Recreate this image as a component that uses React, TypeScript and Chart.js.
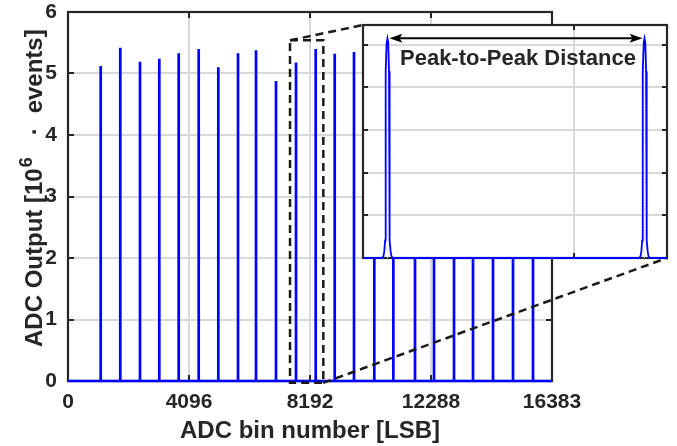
import React, { useEffect, useRef } from 'react';
import { Chart, registerables } from 'chart.js';

Chart.register(...registerables);

// ---------- data ----------
const xTickValues = [0, 4096, 8192, 12288, 16383];
const yTickValues = [0, 1, 2, 3, 4, 5, 6];
const peakBins = [1107, 1770, 2437, 3090, 3747, 4424, 5088, 5755, 6364, 7041, 7718, 8385, 9028, 9681, 10368, 11012, 11746, 12389, 13066, 13709, 14386, 15063, 15740];
const peakCounts = [5.12, 5.42, 5.19, 5.24, 5.33, 5.40, 5.10, 5.33, 5.38, 4.88, 5.18, 5.40, 5.32, 5.35, 5.30, 5.25, 5.36, 5.28, 5.22, 5.34, 5.27, 5.31, 5.20];
const zoomBoxBins = [7515, 8642];
const zoomBoxCounts = [-0.03, 5.54];

const insetRangeBins = [7656, 8427];
const insetRangeCounts = [0, 5.46];
const insetXTickValues = [8192];
const insetYTickValues = [0, 1, 2, 3, 4, 5];
const insetPeakBins = [7718, 8370];
const insetPeakCounts = [5.15, 5.15];
// peak profile: offsets (bins) and relative height
const profileOffsets = [-13, -10, -8, -6, -5, -4, -2, 0, 2, 4, 5, 6, 8, 10, 13];
const profileShape = [0, 0.01, 0.03, 0.08, 0.25, 0.85, 0.98, 1, 0.98, 0.85, 0.25, 0.08, 0.03, 0.01, 0];
const annotationText = 'Peak-to-Peak Distance';
const annotationCount = 4.53;

const xTitle = 'ADC bin number [LSB]';
const yTitleMain = 'ADC Output [10';
const yTitleSup = '6';
const yTitleDot = '\u00b7';
const yTitleTail = 'events]';

// ---------- styles ----------
const W = 677;
const H = 446;
const BLUE = '#0000ff';
const AXIS = '#262626';
const GRID = '#d9d9d9';
const FONT = '"Liberation Sans", Arial, sans-serif';
const INSET = { left: 363, top: 25, right: 667, bottom: 258 };
const PAD = 4;

function drawGrid(chart: any) {
  const { ctx, chartArea: a, scales } = chart;
  ctx.save();
  ctx.strokeStyle = GRID;
  ctx.lineWidth = 2;
  ctx.beginPath();
  scales.x.ticks.forEach((t: any) => {
    const px = Math.round(scales.x.getPixelForValue(t.value));
    ctx.moveTo(px, a.top);
    ctx.lineTo(px, a.bottom);
  });
  scales.y.ticks.forEach((t: any) => {
    const py = Math.round(scales.y.getPixelForValue(t.value));
    ctx.moveTo(a.left, py);
    ctx.lineTo(a.right, py);
  });
  ctx.stroke();
  ctx.restore();
}

function drawBox(chart: any, tickLen: number) {
  const { ctx, chartArea: a, scales } = chart;
  ctx.save();
  ctx.strokeStyle = AXIS;
  ctx.lineWidth = 2.2;
  ctx.strokeRect(a.left, a.top, a.right - a.left, a.bottom - a.top);
  ctx.lineWidth = 2;
  ctx.beginPath();
  scales.x.ticks.forEach((t: any) => {
    const px = Math.round(scales.x.getPixelForValue(t.value));
    ctx.moveTo(px, a.bottom);
    ctx.lineTo(px, a.bottom - tickLen);
    ctx.moveTo(px, a.top);
    ctx.lineTo(px, a.top + tickLen);
  });
  scales.y.ticks.forEach((t: any) => {
    const py = Math.round(scales.y.getPixelForValue(t.value));
    ctx.moveTo(a.left, py);
    ctx.lineTo(a.left + tickLen, py);
    ctx.moveTo(a.right, py);
    ctx.lineTo(a.right - tickLen, py);
  });
  ctx.stroke();
  ctx.restore();
}

const mainPlugin = {
  id: 'mainDecor',
  beforeDatasetsDraw(chart: any) {
    drawGrid(chart);
    drawBox(chart, 6);
  },
  afterDatasetsDraw(chart: any) {
    const { ctx, scales } = chart;
    const x0 = scales.x.getPixelForValue(zoomBoxBins[0]);
    const x1 = scales.x.getPixelForValue(zoomBoxBins[1]);
    const y0 = scales.y.getPixelForValue(zoomBoxCounts[0]);
    const y1 = scales.y.getPixelForValue(zoomBoxCounts[1]);
    ctx.save();
    ctx.strokeStyle = '#1a1a1a';
    ctx.lineWidth = 2.5;
    ctx.setLineDash([8, 5]);
    ctx.strokeRect(x0, y1, x1 - x0, y0 - y1);
    ctx.beginPath();
    ctx.moveTo(x0, y1);
    ctx.lineTo(INSET.left, INSET.top);
    ctx.moveTo(x1, y0);
    ctx.lineTo(INSET.right, INSET.bottom);
    ctx.stroke();
    ctx.restore();
  },
  afterDraw(chart: any) {
    const { ctx, chartArea: a } = chart;
    ctx.save();
    ctx.fillStyle = AXIS;
    // x title
    ctx.font = `bold 24px ${FONT}`;
    ctx.textAlign = 'center';
    ctx.textBaseline = 'alphabetic';
    ctx.fillText(xTitle, (a.left + a.right) / 2, 438);
    // y title (rotated, with superscript)
    ctx.translate(42, 347);
    ctx.rotate(-Math.PI / 2);
    ctx.textAlign = 'left';
    const big = `bold 24px ${FONT}`;
    const small = `bold 18px ${FONT}`;
    let x = 0;
    ctx.font = big;
    ctx.fillText(yTitleMain, x, 0);
    x += ctx.measureText(yTitleMain).width + 1;
    ctx.font = small;
    ctx.fillText(yTitleSup, x, -10);
    x += ctx.measureText(yTitleSup).width + 22;
    ctx.font = big;
    ctx.fillText(yTitleDot, x, 0);
    x += ctx.measureText(yTitleDot).width + 14;
    ctx.fillText(yTitleTail, x, 0);
    ctx.restore();
  },
};

function drawArrowHead(ctx: CanvasRenderingContext2D, tipX: number, y: number, dir: number) {
  const len = 13;
  const half = 4.5;
  const notch = 3;
  ctx.beginPath();
  ctx.moveTo(tipX, y);
  ctx.lineTo(tipX + dir * len, y - half);
  ctx.lineTo(tipX + dir * (len - notch), y);
  ctx.lineTo(tipX + dir * len, y + half);
  ctx.closePath();
  ctx.fill();
}

const insetPlugin = {
  id: 'insetDecor',
  beforeDraw(chart: any) {
    const { ctx, chartArea: a } = chart;
    ctx.save();
    ctx.fillStyle = '#ffffff';
    ctx.fillRect(a.left, a.top, a.right - a.left, a.bottom - a.top);
    ctx.restore();
  },
  beforeDatasetsDraw(chart: any) {
    drawGrid(chart);
    drawBox(chart, 5);
  },
  afterDatasetsDraw(chart: any) {
    const { ctx, scales } = chart;
    const xa = scales.x.getPixelForValue(insetPeakBins[0]);
    const xb = scales.x.getPixelForValue(insetPeakBins[1]);
    const ya = scales.y.getPixelForValue(insetPeakCounts[0]);
    ctx.save();
    ctx.strokeStyle = '#000000';
    ctx.fillStyle = '#000000';
    ctx.lineWidth = 2;
    ctx.beginPath();
    ctx.moveTo(xa + 8, ya);
    ctx.lineTo(xb - 8, ya);
    ctx.stroke();
    drawArrowHead(ctx, xa + 2, ya, 1);
    drawArrowHead(ctx, xb - 2, ya, -1);
    ctx.fillStyle = AXIS;
    ctx.font = `bold 22px ${FONT}`;
    ctx.textAlign = 'center';
    ctx.textBaseline = 'alphabetic';
    const mid = scales.x.getPixelForValue((insetPeakBins[0] + insetPeakBins[1]) / 2);
    ctx.fillText(annotationText, mid + 2, scales.y.getPixelForValue(annotationCount));
    ctx.restore();
  },
};

function fixedTicks(values: number[]) {
  return (scale: any) => {
    scale.ticks = values.map((v) => ({ value: v }));
  };
}

export default function App() {
  const mainRef = useRef<HTMLCanvasElement>(null);
  const insetRef = useRef<HTMLCanvasElement>(null);

  useEffect(() => {
    const mainData: { x: number; y: number }[] = [{ x: xTickValues[0], y: 0 }];
    peakBins.forEach((b, i) => {
      mainData.push({ x: b, y: 0 }, { x: b, y: peakCounts[i] }, { x: b, y: 0 });
    });
    mainData.push({ x: xTickValues[xTickValues.length - 1], y: 0 });

    const tickFont = { family: FONT, size: 21, weight: 'bold' as const };

    const main = new Chart(mainRef.current!, {
      type: 'line',
      data: {
        datasets: [
          {
            data: mainData,
            borderColor: BLUE,
            borderWidth: 2.7,
            pointRadius: 0,
            tension: 0,
            borderJoinStyle: 'bevel',
            clip: false as any,
          },
        ],
      },
      options: {
        animation: false,
        responsive: false,
        devicePixelRatio: 1,
        events: [],
        layout: { padding: { left: 0, top: 12, right: 125, bottom: 0 } },
        plugins: { legend: { display: false }, tooltip: { enabled: false } },
        scales: {
          x: {
            type: 'linear',
            min: xTickValues[0],
            max: xTickValues[xTickValues.length - 1],
            afterBuildTicks: fixedTicks(xTickValues),
            afterFit: (s: any) => {
              s.height = 65;
              s.paddingLeft = 0;
              s.paddingRight = 0;
            },
            grid: { display: false, drawTicks: false },
            border: { display: false },
            ticks: {
              font: tickFont,
              color: AXIS,
              padding: 9,
              maxRotation: 0,
              autoSkip: false,
              callback: (v: any) => String(v),
            },
          },
          y: {
            min: 0,
            max: 6,
            afterBuildTicks: fixedTicks(yTickValues),
            afterFit: (s: any) => {
              s.width = 68;
              s.paddingTop = 0;
              s.paddingBottom = 0;
            },
            grid: { display: false, drawTicks: false },
            border: { display: false },
            ticks: {
              font: tickFont,
              color: AXIS,
              padding: 11,
              autoSkip: false,
              callback: (v: any) => String(v),
            },
          },
        },
      },
      plugins: [mainPlugin],
    });

    const insetData: { x: number; y: number }[] = [{ x: insetRangeBins[0], y: 0 }];
    const centerLines: { x: number; y: number | null }[] = [];
    insetPeakBins.forEach((p, i) => {
      profileOffsets.forEach((o, k) => {
        insetData.push({ x: p + o, y: insetPeakCounts[i] * profileShape[k] });
      });
      centerLines.push({ x: p, y: 0 }, { x: p, y: insetPeakCounts[i] }, { x: p, y: null });
    });
    insetData.push({ x: insetRangeBins[1], y: 0 });

    const inset = new Chart(insetRef.current!, {
      type: 'line',
      data: {
        datasets: [
          {
            data: insetData,
            borderColor: BLUE,
            borderWidth: 1.8,
            pointRadius: 0,
            tension: 0,
            clip: false as any,
          },
          {
            data: centerLines as any,
            borderColor: '#dcdcf0',
            borderWidth: 1,
            borderDash: [1.5, 1.5],
            pointRadius: 0,
            spanGaps: false,
          },
        ],
      },
      options: {
        animation: false,
        responsive: false,
        devicePixelRatio: 1,
        events: [],
        layout: { padding: PAD },
        plugins: { legend: { display: false }, tooltip: { enabled: false } },
        scales: {
          x: {
            type: 'linear',
            min: insetRangeBins[0],
            max: insetRangeBins[1],
            afterBuildTicks: fixedTicks(insetXTickValues),
            afterFit: (s: any) => {
              s.height = 0;
              s.paddingLeft = 0;
              s.paddingRight = 0;
            },
            grid: { display: false, drawTicks: false },
            border: { display: false },
            ticks: { display: false },
          },
          y: {
            min: insetRangeCounts[0],
            max: insetRangeCounts[1],
            afterBuildTicks: fixedTicks(insetYTickValues),
            afterFit: (s: any) => {
              s.width = 0;
              s.paddingTop = 0;
              s.paddingBottom = 0;
            },
            grid: { display: false, drawTicks: false },
            border: { display: false },
            ticks: { display: false },
          },
        },
      },
      plugins: [insetPlugin],
    });

    return () => {
      main.destroy();
      inset.destroy();
    };
  }, []);

  return (
    <div style={{ position: 'fixed', left: 0, top: 0, width: W, height: H, background: '#ffffff' }}>
      <canvas ref={mainRef} width={W} height={H} style={{ position: 'absolute', left: 0, top: 0, width: W, height: H }} />
      <canvas
        ref={insetRef}
        width={INSET.right - INSET.left + 2 * PAD}
        height={INSET.bottom - INSET.top + 2 * PAD}
        style={{
          position: 'absolute',
          left: INSET.left - PAD,
          top: INSET.top - PAD,
          width: INSET.right - INSET.left + 2 * PAD,
          height: INSET.bottom - INSET.top + 2 * PAD,
        }}
      />
    </div>
  );
}
